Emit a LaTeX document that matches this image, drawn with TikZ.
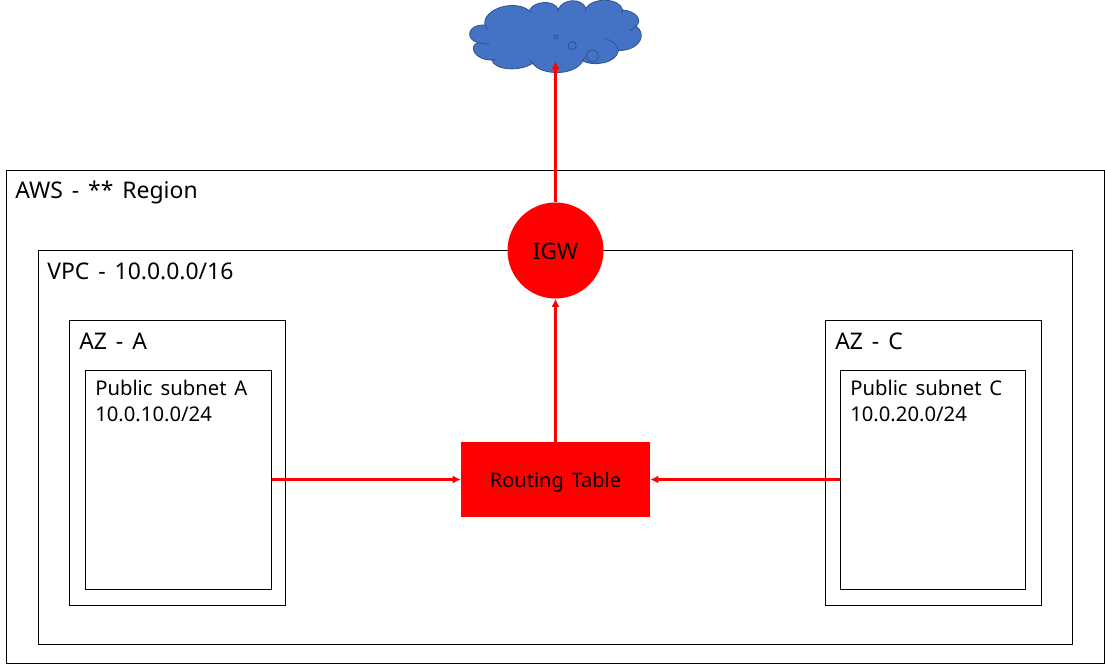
\documentclass[tikz,border=0pt]{standalone}
\usepackage{fontspec}
\setmainfont[WordSpace=1.5]{Noto Sans}
\usetikzlibrary{arrows.meta}
\definecolor{cloudblue}{HTML}{4472C4}
\definecolor{cloudline}{HTML}{2F528F}

\begin{document}
\begin{tikzpicture}[
    x=0.75pt, y=-0.75pt,
    >={Latex[length=6pt,width=6pt]},
    box/.style={draw=black, line width=0.75pt, fill=white, inner sep=0pt},
    hub/.style={fill=red, inner sep=0pt, font=\fontsize{15}{18}\selectfont},
    biglab/.style={anchor=base west, inner sep=0pt, font=\fontsize{17.2}{20}\selectfont},
    smalllab/.style={anchor=north west, inner sep=0pt, align=left, font=\fontsize{15.2}{19.5}\selectfont},
    route/.style={->, draw=red, line width=2pt}
  ]
  \useasboundingbox (0,0) rectangle (1105,664);

  % cloud
  \begin{scope}[shift={(450,0)}, x=0.25pt, y=-0.25pt]
    \draw[fill=cloudblue, draw=cloudline, line width=0.6pt]
      (105,75) .. controls (95,30) and (190,-5) .. (238,32)
      .. controls (250,3) and (310,-3) .. (325,28)
      .. controls (340,-6) and (395,-6) .. (408,25)
      .. controls (425,-8) and (510,-8) .. (518,30)
      .. controls (555,32) and (580,60) .. (558,78)
      .. controls (590,100) and (575,150) .. (505,152)
      .. controls (500,190) and (430,200) .. (398,183)
      .. controls (375,228) and (275,228) .. (248,190)
      .. controls (210,215) and (135,212) .. (125,180)
      .. controls (70,180) and (55,135) .. (85,128)
      .. controls (45,120) and (50,72) .. (105,75);
    \draw[draw=cloudline, line width=0.6pt]
      (105,75) -- (112,88)
      (85,128) -- (118,133)
      (125,180) -- (140,176)
      (248,190) -- (240,180)
      (398,183) -- (405,170)
      (505,152) .. controls (505,135) and (485,122) .. (465,115)
      (558,78) -- (540,92)
      (518,30) -- (515,40)
      (408,25) -- (405,34)
      (325,28) -- (322,36)
      (238,32) -- (245,38);
    \draw[draw=cloudline, line width=0.6pt] (318,111) circle (6);
    \draw[draw=cloudline, line width=0.6pt] (367,137) circle (12);
    \draw[draw=cloudline, line width=0.6pt] (427,168) circle (18);
  \end{scope}
  \coordinate (cloudtip) at (555.5,61);

  % nested boxes
  \node[box, minimum width=823.5pt, minimum height=369.75pt] (aws) at (555,416.5) {};
  \node[box, minimum width=775.5pt, minimum height=295.5pt] (vpc) at (555,447) {};
  \node[box, minimum width=162pt, minimum height=213.75pt] (aza) at (177,462.5) {};
  \node[box, minimum width=139.5pt, minimum height=164.25pt] (suba) at (178,479.5) {};
  \node[box, minimum width=162pt, minimum height=213.75pt] (azc) at (933,462.5) {};
  \node[box, minimum width=138.75pt, minimum height=164.25pt] (subc) at (932.5,479.5) {};

  % box labels
  \node[biglab] (awslab) at (15,198) {AWS - ** Region};
  \node[biglab] (vpclab) at (47,279) {VPC - 10.0.0.0/16};
  \node[biglab] (azalab) at (79,349) {AZ - A};
  \node[biglab] (azclab) at (835,349) {AZ - C};
  \node[smalllab] (subalab) at (95,380) {Public subnet A\\10.0.10.0/24};
  \node[smalllab] (subclab) at (850,380) {Public subnet C\\10.0.20.0/24};

  % gateway and table
  \node[hub, circle, minimum size=72pt, font=\fontsize{17}{20}\selectfont] (igw) at (555.5,250.5) {\rule{0pt}{14pt}IGW};
  \node[hub, minimum width=141.75pt, minimum height=56.25pt] (table) at (555.5,479.5) {\rule{0pt}{16pt}Routing Table};

  % routes
  \draw[route] (suba) -- (table);
  \draw[route] (subc) -- (table);
  \draw[route] (table) -- (igw);
  \draw[route] (igw) -- (cloudtip);
\end{tikzpicture}
\end{document}
